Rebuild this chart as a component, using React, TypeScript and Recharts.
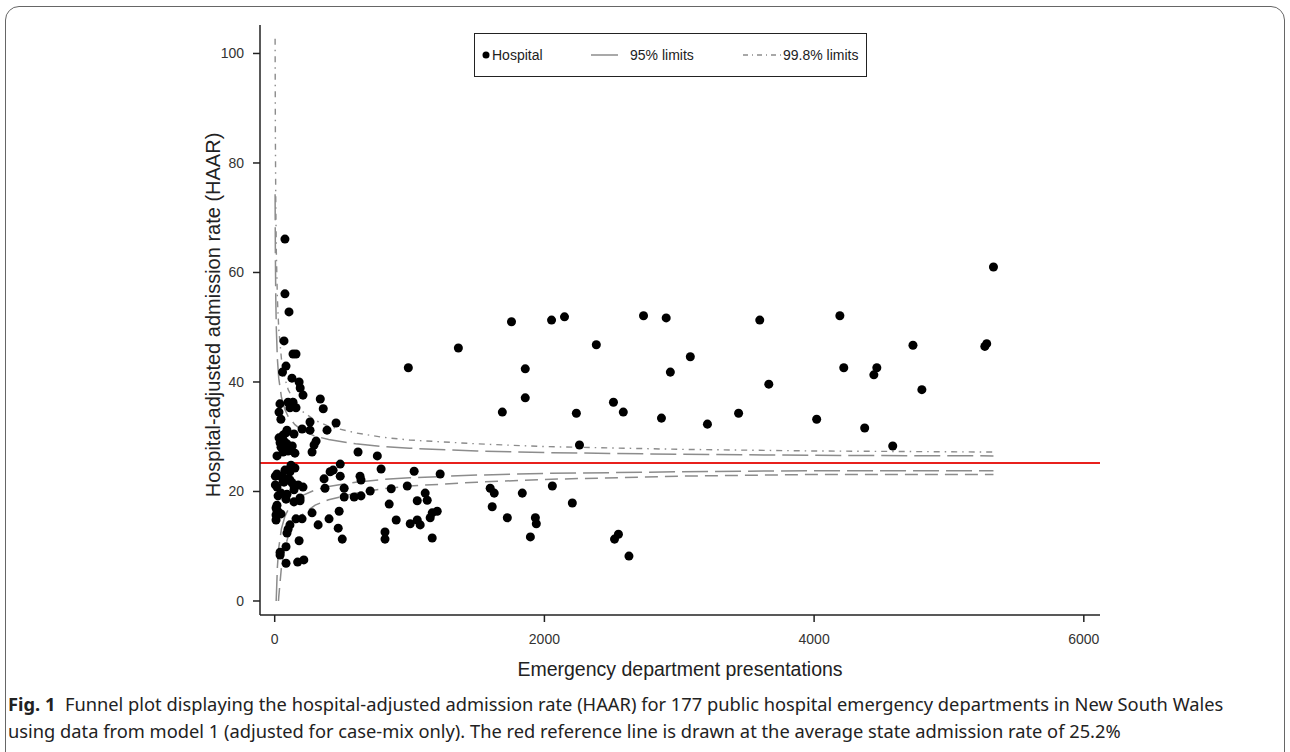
import React from "react";
import { ScatterChart, Scatter, XAxis, YAxis, ReferenceLine, Label } from "recharts";

// hospitals: ED presentations and HAAR
const hospN = [
  76, 76, 106, 69, 136, 158, 84, 58, 128, 181, 189, 210, 39, 99, 136, 113, 158, 32, 46, 338,
  360, 262, 455, 203, 262, 388, 91, 84, 143, 54, 69, 40, 91, 47, 84, 99, 62, 307, 292, 277,
  150, 17, 618, 761, 121, 486, 150, 76, 433, 411, 17, 5, 54, 99, 113, 69, 366, 486, 633, 640,
  5, 17, 143, 174, 143, 210, 47, 25, 91, 373, 515, 640, 515, 188, 84, 143, 188, 17, 25, 47,
  10, 10, 277, 158, 203, 322, 403, 478, 471, 501, 113, 99, 91, 181, 84, 40, 40, 84, 170, 216,
  589, 708, 789, 1034, 1227, 864, 983, 849, 1116, 1057, 1131, 1205, 1168, 1153, 901, 1005, 1057, 1079, 818, 818,
  1168, 1598, 1628, 1613, 1836, 2059, 1725, 1933, 1940, 1896, 2207, 2549, 2520, 2627, 991, 1362, 1756, 2053, 2149, 2735,
  2903, 1858, 2385, 2934, 1858, 1688, 2237, 2512, 2585, 2868, 2260, 3597, 4191, 3082, 4733, 5266, 5280, 4220, 4465, 4443,
  3664, 4799, 3209, 3440, 4019, 4375, 4583, 5330, 32, 62, 128, 25, 10, 113, 62, 17, 130,
];
const hospRate = [
  66.1, 56.1, 52.8, 47.5, 45.1, 45.1, 42.9, 41.8, 40.7, 40.0, 38.9, 37.6, 36.0, 36.3, 36.3, 35.3, 35.3, 34.5, 33.2, 36.9,
  35.1, 32.7, 32.5, 31.4, 31.2, 31.2, 31.2, 30.7, 30.5, 29.6, 29.2, 28.9, 28.7, 28.1, 27.8, 27.4, 27.2, 29.2, 28.5, 27.2,
  27.0, 26.5, 27.2, 26.5, 24.8, 25.0, 24.3, 23.9, 23.9, 23.6, 23.2, 22.8, 22.8, 22.3, 22.1, 21.7, 22.3, 22.8, 22.8, 22.1,
  21.2, 20.8, 21.0, 21.2, 20.3, 20.8, 19.7, 19.2, 19.5, 20.6, 20.6, 19.2, 19.0, 18.8, 18.6, 18.1, 18.3, 17.5, 16.3, 15.9,
  15.7, 14.8, 16.1, 15.0, 15.0, 13.9, 15.0, 16.4, 13.3, 11.3, 13.9, 13.1, 12.4, 11.0, 9.9, 8.9, 8.4, 6.9, 7.1, 7.5,
  19.0, 20.1, 24.1, 23.7, 23.2, 20.5, 21.0, 17.7, 19.7, 18.3, 18.4, 16.4, 16.1, 15.2, 14.8, 14.1, 14.8, 13.9, 12.6, 11.3,
  11.5, 20.6, 19.7, 17.2, 19.7, 21.0, 15.2, 15.2, 14.1, 11.7, 17.9, 12.2, 11.3, 8.2, 42.6, 46.2, 51.0, 51.3, 51.9, 52.1,
  51.7, 42.4, 46.8, 41.8, 37.1, 34.5, 34.3, 36.3, 34.5, 33.4, 28.5, 51.3, 52.1, 44.6, 46.7, 46.5, 47.0, 42.6, 42.6, 41.3,
  39.6, 38.6, 32.3, 34.3, 33.2, 31.6, 28.3, 61.0, 29.8, 21.9, 21.6, 22.9, 17.0, 23.6, 30.3, 16.5, 28.3,
];

// control limits
const upperN = [3, 5, 8, 12, 20, 30, 50, 75, 100, 150, 200, 300, 400, 600, 800, 1000, 1500, 2000, 3000, 4000, 5330];
const upper95 = [74.3, 63.3, 55.3, 49.8, 44.2, 40.7, 37.2, 35.0, 33.7, 32.2, 31.2, 30.1, 29.5, 28.7, 28.2, 27.9, 27.4, 27.1, 26.8, 26.6, 26.5];
const upper998 = [102.7, 85.2, 72.6, 63.9, 55.2, 49.7, 44.2, 40.7, 38.6, 36.2, 34.7, 33.0, 31.9, 30.7, 29.9, 29.4, 28.7, 28.2, 27.7, 27.4, 27.2];
const lower95N = [11, 20, 30, 50, 75, 100, 150, 200, 300, 400, 600, 800, 1000, 1500, 2000, 3000, 4000, 5330];
const lower95 = [0, 6.2, 9.7, 13.2, 15.4, 16.7, 18.3, 19.2, 20.3, 20.9, 21.7, 22.2, 22.5, 23.0, 23.3, 23.6, 23.8, 23.8];
const lower998N = [28, 30, 50, 75, 100, 150, 200, 300, 400, 600, 800, 1000, 1500, 2000, 3000, 4000, 5330];
const lower998 = [0, 0.7, 6.2, 9.7, 11.8, 14.3, 15.7, 17.5, 18.5, 19.7, 20.5, 21.0, 21.7, 22.2, 22.8, 23.1, 23.1];

const stateRate = 25.2;
const xTicks = [0, 2000, 4000, 6000];
const yTicks = [0, 20, 40, 60, 80, 100];

const hospitals = hospN.map((n, i) => ({ n, rate: hospRate[i] }));
const pts = (ns: number[], vs: number[]) => ns.map((n, i) => ({ n, rate: vs[i] }));

const FONT = "'Liberation Sans', Arial, sans-serif";
const LIMIT = "#8c8c8c";
const noDot = () => <g />;

function YTitle() {
  return (
    <text x={213} y={315} transform="rotate(-90 213 315)" textAnchor="middle" dominantBaseline="central"
      fontSize={20} fontFamily={FONT} fill="#222">
      Hospital-adjusted admission rate (HAAR)
    </text>
  );
}

function LegendBox() {
  return (
    <div style={{ position: "absolute", left: 474, top: 33, width: 393, height: 44, border: "1.5px solid #222",
      boxSizing: "border-box", fontFamily: FONT, fontSize: 14, color: "#222" }}>
      <svg width={393} height={44} style={{ position: "absolute", left: 0, top: 0 }}>
        <circle cx={11} cy={21} r={3.5} fill="#000" />
        <text x={17} y={21} dominantBaseline="central" fontSize={14} fontFamily={FONT} fill="#222">Hospital</text>
        <line x1={116} x2={143} y1={21} y2={21} stroke={LIMIT} strokeWidth={1.5} />
        <text x={155} y={21} dominantBaseline="central" fontSize={14} fontFamily={FONT} fill="#222">95% limits</text>
        <line x1={268} x2={306} y1={21} y2={21} stroke={LIMIT} strokeWidth={1.3} strokeDasharray="5 4 1 4" />
        <text x={308} y={21} dominantBaseline="central" fontSize={14} fontFamily={FONT} fill="#222">99.8% limits</text>
      </svg>
    </div>
  );
}

export default function App() {
  return (
    <div style={{ position: "absolute", left: 0, top: 0, width: 1290, height: 752, background: "#fff", overflow: "hidden" }}>
      <div style={{ position: "absolute", left: 5, top: 6, width: 1280, height: 760, border: "1.5px solid #666",
        borderRadius: 14, boxSizing: "border-box" }} />
      <div style={{ position: "absolute", left: 0, top: 0 }}>
        <ScatterChart width={1290} height={752} margin={{ top: 25, right: 190, bottom: 67, left: 200 }}>
          <XAxis type="number" dataKey="n" domain={[-109, 6120]} ticks={xTicks} allowDataOverflow
            height={70} tickSize={7} tickMargin={12} stroke="#222" strokeWidth={1.5}
            tick={{ fill: "#333", fontSize: 14, fontFamily: FONT }}>
            <Label value="Emergency department presentations" position="insideBottom" offset={9}
              style={{ fontSize: 19.5, fontFamily: FONT, fill: "#222" }} />
          </XAxis>
          <YAxis type="number" dataKey="rate" domain={[-2.56, 105.2]} ticks={yTicks} allowDataOverflow
            width={60} tickSize={7} tickMargin={9} stroke="#222" strokeWidth={1.5}
            tick={{ fill: "#333", fontSize: 14, fontFamily: FONT }}>
            <Label content={<YTitle />} />
          </YAxis>
          <Scatter data={pts(upperN, upper998)} fill={LIMIT} shape={noDot} isAnimationActive={false}
            line={{ stroke: LIMIT, strokeWidth: 1.4, strokeDasharray: "6 5 1.5 5" }} />
          <Scatter data={pts(upperN, upper95)} fill={LIMIT} shape={noDot} isAnimationActive={false}
            line={{ stroke: LIMIT, strokeWidth: 1.5, strokeDasharray: "26 7" }} />
          <Scatter data={pts(lower95N, lower95)} fill={LIMIT} shape={noDot} isAnimationActive={false}
            line={{ stroke: LIMIT, strokeWidth: 1.5, strokeDasharray: "26 7" }} />
          <Scatter data={pts(lower998N, lower998)} fill={LIMIT} shape={noDot} isAnimationActive={false}
            line={{ stroke: LIMIT, strokeWidth: 1.5, strokeDasharray: "13 7" }} />
          <ReferenceLine y={stateRate} stroke="#e8201c" strokeWidth={2} />
          <Scatter data={hospitals} fill="#000" isAnimationActive={false} />
        </ScatterChart>
      </div>
      <LegendBox />
      <div style={{ position: "absolute", left: 8, top: 690, fontFamily: "'Noto Sans', sans-serif", fontSize: 18.3,
        lineHeight: "27px", color: "#222", whiteSpace: "nowrap" }}>
        <div><b>Fig. 1</b>&nbsp; Funnel plot displaying the hospital-adjusted admission rate (HAAR) for 177 public hospital emergency departments in New South Wales</div>
        <div>using data from model 1 (adjusted for case-mix only). The red reference line is drawn at the average state admission rate of 25.2%</div>
      </div>
    </div>
  );
}
